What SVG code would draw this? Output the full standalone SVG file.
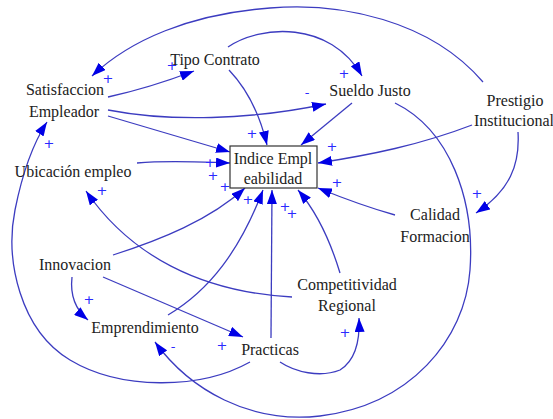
<svg xmlns="http://www.w3.org/2000/svg" width="553" height="419" viewBox="0 0 553 419">
<defs>
<marker id="ah" viewBox="0 0 14 10" refX="14" refY="5" markerWidth="14" markerHeight="10" markerUnits="userSpaceOnUse" orient="auto">
<path d="M0,0 L14,5 L0,10 Z" fill="#0000e6"/>
</marker>
</defs>
<style>
.t{font-family:'Liberation Serif',serif;font-size:16px;fill:#222;text-anchor:middle}
.c path{fill:none;stroke:#3c3cc0;stroke-width:1.3}
.c .a{marker-end:url(#ah)}
.p{font-family:'DejaVu Sans',sans-serif;font-size:13px;fill:#2a2aff;text-anchor:middle}
</style>
<rect width="553" height="419" fill="#fff"/>
<g class="c" id="connectors">
<path class="a" d="M483,82 C430,20 340,2 270,8 C190,14 130,40 92,76"/>
<path class="a" d="M228,47 C260,25 330,20 362,76"/>
<path class="a" d="M108,97 C140,90 165,82 194,71"/>
<path class="a" d="M108,110 C170,122 250,120 326,104"/>
<path class="a" d="M108,116 L230,152"/>
<path class="a" d="M229,70 C248,90 260,115 267,145"/>
<path class="a" d="M352,103 L301,145"/>
<path class="a" d="M472,125 C420,145 370,155 318,163"/>
<path class="a" d="M518,132 C520,165 510,190 476,213"/>
<path class="a" d="M395,103 C450,130 475,200 470,270 C465,340 410,405 320,416 C250,424 190,390 155,342"/>
<path class="a" d="M395,215 C370,208 345,199 318,188"/>
<path class="a" d="M340,273 C330,240 315,210 298,190"/>
<path class="a" d="M271,338 L272,190"/>
<path class="a" d="M168,315 C210,290 240,250 263,190"/>
<path class="a" d="M113,255 C160,240 210,220 245,188"/>
<path class="a" d="M137,163 C170,160 200,162 230,163"/>
<path class="a" d="M292,297 C200,292 130,255 86,191"/>
<path class="a" d="M72,277 C70,295 76,310 88,320"/>
<path class="a" d="M103,277 L243,337"/>
<path class="a" d="M280,362 C295,372 320,378 340,370 C356,360 360,340 359,318"/>
<path class="a" d="M250,362 C200,390 120,390 70,360 C20,330 5,260 15,210 C22,175 32,145 47,122"/>
</g>
<g id="signs">
<text class="p" x="108" y="83">+</text>
<text class="p" x="172" y="70">+</text>
<text class="p" x="344" y="78">+</text>
<text class="p" x="307" y="97">-</text>
<text class="p" x="252" y="138">+</text>
<text class="p" x="332" y="151">+</text>
<text class="p" x="337" y="187">+</text>
<text class="p" x="477" y="198">+</text>
<text class="p" x="210" y="167">+</text>
<text class="p" x="213" y="180">+</text>
<text class="p" x="225" y="191">+</text>
<text class="p" x="248" y="204">+</text>
<text class="p" x="285" y="211">+</text>
<text class="p" x="292" y="218">+</text>
<text class="p" x="102" y="195">+</text>
<text class="p" x="49" y="148">+</text>
<text class="p" x="89" y="304">+</text>
<text class="p" x="222" y="350">+</text>
<text class="p" x="345" y="337">+</text>
<text class="p" x="173" y="351">-</text>
</g>
<g id="indice">
<rect x="230" y="146" width="87" height="42" fill="#fff" stroke="#333" stroke-width="1.2"/>
<text class="t" x="273" y="164">Indice Empl</text>
<text class="t" x="273" y="184">eabilidad</text>
</g>
<g id="satisfaccion"><text class="t" x="65" y="95">Satisfaccion</text><text class="t" x="64" y="117">Empleador</text></g>
<g id="tipo"><text class="t" x="215" y="65">Tipo Contrato</text></g>
<g id="sueldo"><text class="t" x="370" y="96">Sueldo Justo</text></g>
<g id="prestigio"><text class="t" x="515" y="106">Prestigio</text><text class="t" x="514" y="126">Institucional</text></g>
<g id="ubicacion"><text class="t" x="73" y="177">Ubicación empleo</text></g>
<g id="calidad"><text class="t" x="435" y="220">Calidad</text><text class="t" x="435" y="242">Formacion</text></g>
<g id="competitividad"><text class="t" x="347" y="290">Competitividad</text><text class="t" x="347" y="311">Regional</text></g>
<g id="innovacion"><text class="t" x="75" y="270">Innovacion</text></g>
<g id="emprendimiento"><text class="t" x="145" y="333">Emprendimiento</text></g>
<g id="practicas"><text class="t" x="270" y="355">Practicas</text></g>
</svg>
